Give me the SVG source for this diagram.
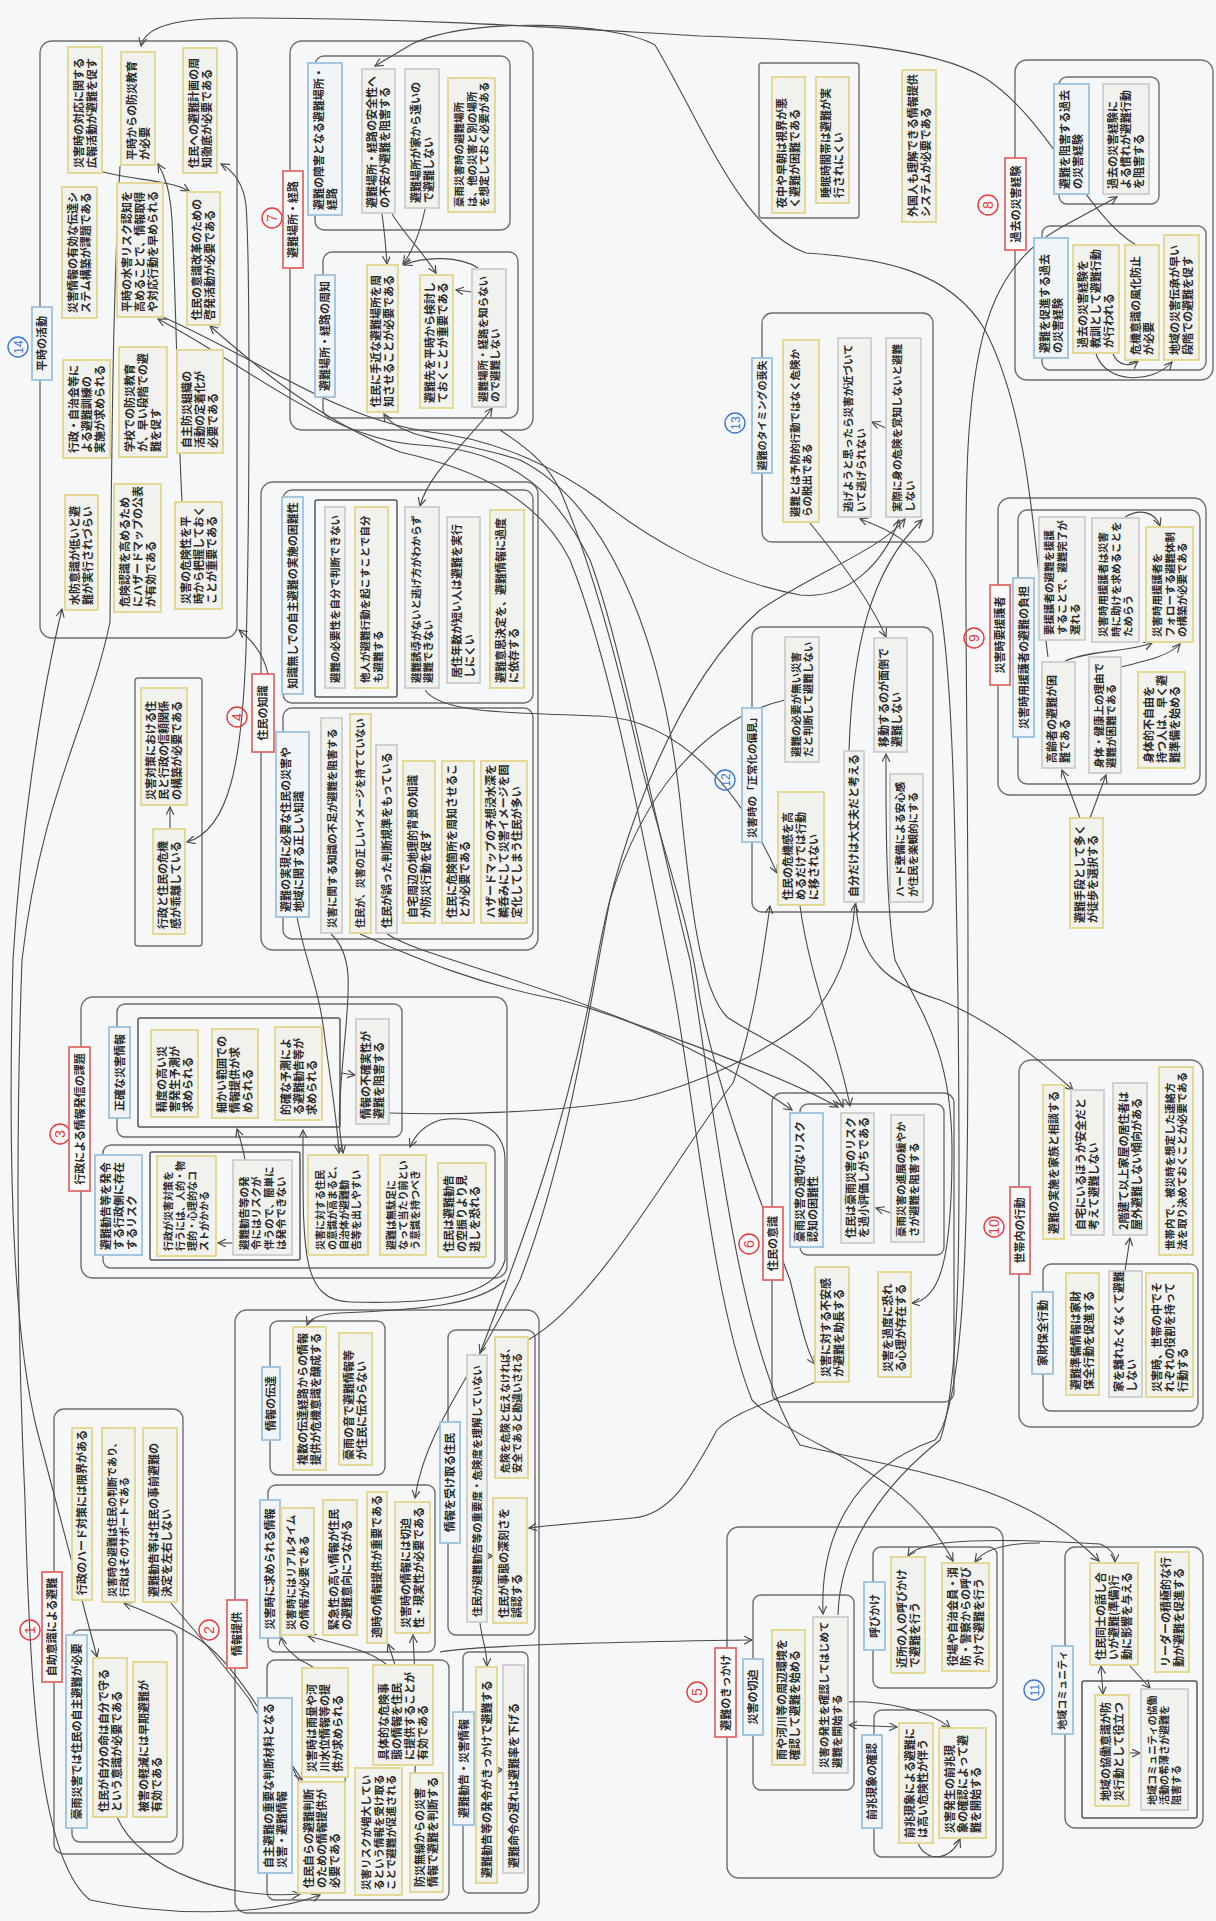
<svg xmlns="http://www.w3.org/2000/svg" width="1216" height="1921" viewBox="0 0 1216 1921">
<style>
.t{font-family:"Noto Sans CJK JP","Noto Sans CJK SC",sans-serif;font-size:11px;font-weight:bold;fill:#2a2a2a}
.m{text-anchor:middle}
.y{fill:#f1f1ee;stroke:#e3d68a;stroke-width:1.8}
.q{fill:#f1f1ee;stroke:#cdcdcd;stroke-width:1.8}
.b{fill:#f2f5f8;stroke:#9dc1dd;stroke-width:1.8}
.r{fill:#fafafa;stroke:#e06b6b;stroke-width:1.8}
.g{fill:none;stroke:#6e6e6e;stroke-width:1.4}
.k{fill:none;stroke:#555;stroke-width:1.5}
.cr{fill:none;stroke:#e33b3b;stroke-width:1.4}
.cb{fill:none;stroke:#3a78d4;stroke-width:1.4}
.nr{font-family:"Liberation Sans",sans-serif;font-size:14px;fill:#e33b3b;text-anchor:middle}
.nb{font-family:"Liberation Sans",sans-serif;font-size:12px;fill:#3a78d4;text-anchor:middle}
.cn path{fill:none;stroke:#4a4a4a;stroke-width:1.1}
</style>
<defs>
<marker id="a" markerUnits="userSpaceOnUse" markerWidth="10" markerHeight="10" refX="8" refY="4" orient="auto-start-reverse"><path d="M0,0 L8,4 L0,8" fill="none" stroke="#4a4a4a" stroke-width="1.2"/></marker>
</defs>
<rect width="1216" height="1921" fill="#f6f7f9"/>

<!-- group frames -->
<g id="frames">
<rect class="g" x="40" y="41" width="197" height="597" rx="12"/>
<rect class="g" x="135" y="678" width="67" height="268" rx="3"/>
<rect class="g" x="290" y="41" width="243" height="389" rx="12"/>
<rect class="g" x="315" y="56" width="195" height="174" rx="9"/>
<rect class="g" x="323" y="252" width="195" height="166" rx="9"/>
<rect class="g" x="759" y="63" width="100" height="155" rx="3"/>
<rect class="g" x="762" y="313" width="171" height="229" rx="10"/>
<rect class="g" x="1015" y="60" width="198" height="320" rx="12"/>
<rect class="g" x="1059" y="77" width="100" height="127" rx="8"/>
<rect class="g" x="1042" y="226" width="164" height="144" rx="8"/>
<rect class="g" x="998" y="498" width="208" height="297" rx="12"/>
<rect class="g" x="1018" y="510" width="182" height="274" rx="9"/>
<rect class="g" x="752" y="627" width="181" height="285" rx="10"/>
<rect class="g" x="261" y="482" width="277" height="468" rx="12"/>
<rect class="g" x="283" y="490" width="250" height="213" rx="9"/>
<rect class="k" x="315" y="500" width="82" height="197" rx="2"/>
<rect class="g" x="283" y="708" width="250" height="231" rx="9"/>
<rect class="g" x="81" y="997" width="426" height="281" rx="12"/>
<rect class="g" x="117" y="1004" width="285" height="133" rx="8"/>
<rect class="k" x="138" y="1018" width="202" height="109" rx="2"/>
<rect class="g" x="103" y="1145" width="392" height="123" rx="8"/>
<rect class="k" x="150" y="1152" width="150" height="108" rx="2"/>
<rect class="g" x="235" y="1310" width="304" height="603" rx="12"/>
<rect class="g" x="270" y="1321" width="115" height="154" rx="8"/>
<rect class="g" x="268" y="1485" width="167" height="167" rx="8"/>
<rect class="g" x="448" y="1330" width="87" height="305" rx="8"/>
<rect class="g" x="267" y="1660" width="182" height="240" rx="8"/>
<rect class="g" x="463" y="1652" width="65" height="241" rx="6"/>
<rect class="g" x="54" y="1409" width="129" height="445" rx="10"/>
<rect class="g" x="72" y="1630" width="105" height="212" rx="8"/>
<rect class="g" x="727" y="1527" width="276" height="351" rx="12"/>
<rect class="g" x="753" y="1595" width="101" height="195" rx="8"/>
<rect class="g" x="873" y="1547" width="124" height="141" rx="8"/>
<rect class="g" x="874" y="1710" width="122" height="147" rx="8"/>
<rect class="g" x="1065" y="1547" width="138" height="281" rx="10"/>
<rect class="k" x="1082" y="1681" width="115" height="137" rx="2"/>
<rect class="g" x="772" y="1093" width="182" height="309" rx="10"/>
<rect class="g" x="800" y="1104" width="144" height="151" rx="8"/>
<rect class="g" x="1019" y="1060" width="184" height="367" rx="12"/>
<rect class="g" x="1043" y="1264" width="155" height="147" rx="8"/>
</g>

<!-- connectors -->
<g id="connectors" class="cn">
<path marker-end="url(#a)" d="M1136,245 C1085,215 1050,120 985,78 C930,45 820,40 700,36 C560,28 420,18 240,18 C170,18 145,28 141,46"/>
<path marker-end="url(#a)" d="M1048,657 C1035,560 1032,420 985,330 C950,270 880,258 806,253 C740,230 700,120 655,45 C615,22 470,16 412,44 L375,66"/>
<path marker-start="url(#a)" marker-end="url(#a)" d="M823,1614 C820,1540 850,1470 935,1440 C968,1400 968,1200 968,960 C968,700 962,500 970,420 C978,320 1000,262 1060,228 L1117,197"/>
<path marker-end="url(#a)" d="M100,171 C130,180 170,180 189,191"/>
<path marker-end="url(#a)" d="M182,501 C178,430 176,300 172,220 C170,190 165,176 158,164"/>
<path marker-start="url(#a)" marker-end="url(#a)" d="M187,842 C230,830 242,760 246,650 C250,500 250,260 246,205 C243,182 232,170 221,164"/>
<path marker-end="url(#a)" d="M268,674 C264,655 252,640 239,630"/>
<path marker-end="url(#a)" d="M170,829 L170,807"/>
<path marker-end="url(#a)" d="M382,214 C385,235 386,250 387,264"/>
<path marker-end="url(#a)" d="M425,209 C420,235 410,255 403,264"/>
<path marker-end="url(#a)" d="M392,214 C405,235 425,255 436,273"/>
<path marker-end="url(#a)" d="M478,268 C460,256 425,256 404,265"/>
<path marker-end="url(#a)" d="M472,292 L456,290"/>
<path marker-start="url(#a)" marker-end="url(#a)" d="M420,506 C430,470 470,440 492,408"/>
<path marker-start="url(#a)" marker-end="url(#a)" d="M158,319 C250,367 330,440 420,445 C520,450 560,500 590,560 C620,640 650,800 690,960 C720,1150 740,1350 800,1445 C900,1470 1020,1480 1099,1561"/>
<path marker-start="url(#a)" marker-end="url(#a)" d="M210,326 C260,370 320,420 400,452 C480,470 540,500 570,560 C610,660 640,820 672,980 C695,1100 712,1300 752,1400 C800,1450 900,1460 953,1561"/>
<path marker-end="url(#a)" d="M389,1113 C450,1115 550,1113 633,1100 C700,1085 770,1050 810,1017 C835,990 852,950 855,904"/>
<path marker-end="url(#a)" d="M528,1340 C600,1300 680,1150 733,1083 C755,1020 762,960 770,906"/>
<path marker-start="url(#a)" marker-end="url(#a)" d="M480,1353 C520,1250 570,1117 597,960 C620,830 680,680 760,610 C820,570 880,550 905,519"/>
<path marker-end="url(#a)" d="M500,430 C530,450 548,465 560,490 C590,560 615,650 640,760 C665,860 690,920 700,1000 C720,1100 760,1200 790,1280 C800,1320 806,1350 815,1364"/>
<path marker-start="url(#a)" marker-end="url(#a)" d="M843,1107 C820,1060 760,1040 727,1017 C700,990 690,900 680,800 C660,620 600,500 520,460 C460,440 400,440 384,414"/>
<path marker-end="url(#a)" d="M387,934 C420,955 500,970 633,1023 C720,1055 790,1080 838,1107"/>
<path marker-end="url(#a)" d="M425,690 C440,712 500,713 600,716 C680,720 740,790 777,873"/>
<path marker-end="url(#a)" d="M163,317 C260,360 340,420 430,432 C500,440 560,470 600,500 C650,540 720,580 800,595 C850,600 885,560 899,520"/>
<path marker-end="url(#a)" d="M297,917 C305,960 320,990 325,1040 C332,1090 337,1120 339,1153"/>
<path marker-end="url(#a)" d="M331,934 C360,960 345,1010 340,1100 C338,1130 341,1140 343,1153"/>
<path marker-end="url(#a)" d="M360,934 C420,960 480,985 560,1000 C640,1020 720,1060 792,1110"/>
<path marker-start="url(#a)" marker-end="url(#a)" d="M303,1130 C303,1250 300,1300 350,1302 C420,1304 495,1300 505,1260 L505,1160 C505,1125 470,1115 440,1120 C425,1125 415,1135 410,1147"/>
<path marker-end="url(#a)" d="M245,1160 C243,1148 240,1138 237,1129"/>
<path marker-end="url(#a)" d="M232,1243 L218,1243"/>
<path marker-end="url(#a)" d="M341,1073 L355,1075"/>
<path marker-end="url(#a)" d="M505,1280 C480,1305 420,1310 340,1313 C320,1314 310,1318 307,1325"/>
<path marker-end="url(#a)" d="M785,700 C700,720 640,800 610,900 C590,1000 570,1150 520,1280 C470,1380 425,1430 415,1498"/>
<path marker-end="url(#a)" d="M838,1615 C840,1540 890,1480 940,1440 C962,1380 960,1200 958,1000 C955,800 952,650 935,580 C915,540 885,528 860,519"/>
<path marker-end="url(#a)" d="M849,751 C852,650 870,570 922,520"/>
<path marker-end="url(#a)" d="M810,523 C840,560 870,600 886,637"/>
<path marker-end="url(#a)" d="M1065,661 C1090,650 1130,652 1152,643"/>
<path marker-end="url(#a)" d="M1121,667 C1150,660 1170,655 1180,644"/>
<path marker-end="url(#a)" d="M1125,517 C1140,508 1155,512 1160,526"/>
<path marker-end="url(#a)" d="M1080,818 L1062,770"/>
<path marker-end="url(#a)" d="M1090,818 L1106,775"/>
<path marker-end="url(#a)" d="M1096,354 C1105,382 1150,386 1172,362"/>
<path marker-end="url(#a)" d="M1113,354 C1118,366 1130,367 1138,361"/>
<path marker-end="url(#a)" d="M1125,1271 L1130,1238"/>
<path marker-end="url(#a)" d="M856,903 C858,960 890,985 940,1000 C990,1020 1040,1060 1073,1090"/>
<path marker-end="url(#a)" d="M891,1213 L876,1208"/>
<path marker-start="url(#a)" marker-end="url(#a)" d="M912,1303 C940,1300 952,1260 952,1150 C952,1050 920,1010 895,960 C885,900 886,800 886,754"/>
<path marker-end="url(#a)" d="M800,906 C810,980 840,1050 850,1106"/>
<path marker-start="url(#a)" marker-end="url(#a)" d="M849,1725 L897,1727"/>
<path marker-end="url(#a)" d="M846,1702 C880,1700 930,1710 950,1728"/>
<path marker-end="url(#a)" d="M918,1843 C925,1862 950,1862 960,1839"/>
<path marker-start="url(#a)" marker-end="url(#a)" d="M908,1556 C920,1538 1000,1538 1100,1544 C1110,1548 1115,1555 1115,1562"/>
<path marker-end="url(#a)" d="M1040,1543 C1010,1543 985,1548 975,1562"/>
<path marker-start="url(#a)" marker-end="url(#a)" d="M1101,1666 L1103,1694"/>
<path marker-end="url(#a)" d="M1130,1666 L1150,1688"/>
<path marker-end="url(#a)" d="M1129,1753 L1140,1753"/>
<path marker-end="url(#a)" d="M480,1623 C482,1640 487,1650 487,1666"/>
<path marker-end="url(#a)" d="M487,1556 L493,1556"/>
<path marker-end="url(#a)" d="M497,1770 L503,1770"/>
<path marker-end="url(#a)" d="M815,1382 C780,1400 735,1410 717,1430 C690,1480 670,1515 633,1518 C590,1522 550,1525 529,1528"/>
<path marker-end="url(#a)" d="M440,1652 C480,1645 600,1642 752,1640"/>
<path marker-end="url(#a)" d="M387,1665 C370,1650 340,1645 308,1636"/>
<path marker-end="url(#a)" d="M345,1782 C350,1720 345,1680 300,1660 C290,1652 283,1646 281,1637"/>
<path marker-end="url(#a)" d="M395,1665 C392,1655 390,1649 388,1644"/>
<path marker-end="url(#a)" d="M415,1773 C418,1720 415,1680 413,1635"/>
<path marker-end="url(#a)" d="M117,1817 C140,1870 227,1900 300,1894"/>
<path marker-end="url(#a)" d="M300,1783 C270,1720 230,1660 200,1640 C170,1620 140,1610 124,1603"/>
<path marker-end="url(#a)" d="M170,1602 C190,1625 220,1660 250,1700 C270,1740 290,1760 302,1780"/>
<path marker-start="url(#a)" marker-end="url(#a)" d="M62,609 C40,700 20,840 13,960 C8,1150 12,1330 37,1430 C55,1500 80,1590 97,1657"/>
<path marker-end="url(#a)" d="M120,166 C113,300 112,420 110,622 C90,720 40,800 22,960 C15,1150 18,1350 25,1500 C30,1700 40,1860 90,1900 C160,1915 260,1918 320,1895"/>
<path marker-end="url(#a)" d="M886,428 L872,422"/>
</g>

<!-- circled numbers -->
<g id="num14" transform="translate(18,347) rotate(-90)"><circle class="cb" r="10"/><text class="nb" y="4.5">14</text></g>
<g id="num7" transform="translate(272,218) rotate(-90)"><circle class="cr" r="10"/><text class="nr" y="5">7</text></g>
<g id="num13" transform="translate(735,423) rotate(-90)"><circle class="cb" r="10"/><text class="nb" y="4.5">13</text></g>
<g id="num8" transform="translate(988,205) rotate(-90)"><circle class="cr" r="10"/><text class="nr" y="5">8</text></g>
<g id="num9" transform="translate(974,638) rotate(-90)"><circle class="cr" r="10"/><text class="nr" y="5">9</text></g>
<g id="num12" transform="translate(725,780) rotate(-90)"><circle class="cb" r="10"/><text class="nb" y="4.5">12</text></g>
<g id="num4" transform="translate(237,717) rotate(-90)"><circle class="cr" r="10"/><text class="nr" y="5">4</text></g>
<g id="num3" transform="translate(60,1134) rotate(-90)"><circle class="cr" r="10"/><text class="nr" y="5">3</text></g>
<g id="num2" transform="translate(209,1630) rotate(-90)"><circle class="cr" r="10"/><text class="nr" y="5">2</text></g>
<g id="num1" transform="translate(30,1630) rotate(-90)"><circle class="cr" r="10"/><text class="nr" y="5">1</text></g>
<g id="num5" transform="translate(697,1692) rotate(-90)"><circle class="cr" r="10"/><text class="nr" y="5">5</text></g>
<g id="num11" transform="translate(1034,1690) rotate(-90)"><circle class="cb" r="10"/><text class="nb" y="4.5">11</text></g>
<g id="num6" transform="translate(749,1244) rotate(-90)"><circle class="cr" r="10"/><text class="nr" y="5">6</text></g>
<g id="num10" transform="translate(994,1227) rotate(-90)"><circle class="cr" r="10"/><text class="nr" y="5">10</text></g>

<!-- 14 -->
<g id="b14" transform="translate(32,380) rotate(-90)"><rect class="b" width="73" height="20"/><text class="t m" x="36.5" y="14.2">平時の活動</text></g>
<g id="n14_1" transform="translate(68,173) rotate(-90)"><rect class="y" width="126" height="34"/><text class="t"><tspan x="5" y="14.7">災害時の対応に関する</tspan><tspan x="5" y="27.7">広報活動が避難を促す</tspan></text></g>
<g id="n14_2" transform="translate(121,165) rotate(-90)"><rect class="y" width="113" height="34"/><text class="t"><tspan x="5" y="14.7">平時からの防災教育</tspan><tspan x="5" y="27.7">が必要</tspan></text></g>
<g id="n14_3" transform="translate(183,173) rotate(-90)"><rect class="y" width="125" height="34"/><text class="t"><tspan x="5" y="14.7">住民への避難計画の周</tspan><tspan x="5" y="27.7">知徹底が必要である</tspan></text></g>
<g id="n14_4" transform="translate(62,318) rotate(-90)"><rect class="y" width="131" height="35"/><text class="t"><tspan x="5" y="15.2">災害情報の有効な伝達シ</tspan><tspan x="5" y="28.2">ステム構築が課題である</tspan></text></g>
<g id="n14_5" transform="translate(117,317) rotate(-90)"><rect class="y" width="134" height="46"/><text class="t"><tspan x="5" y="14.2">平時の水害リスク認知を</tspan><tspan x="5" y="27.2">高めることで、情報取得</tspan><tspan x="5" y="40.2">や対応行動を早められる</tspan></text></g>
<g id="n14_6" transform="translate(187,325) rotate(-90)"><rect class="y" width="133" height="33"/><text class="t"><tspan x="5" y="14.2">住民の意識改革のための</tspan><tspan x="5" y="27.2">啓発活動が必要である</tspan></text></g>
<g id="n14_7" transform="translate(63,458) rotate(-90)"><rect class="y" width="98" height="47"/><text class="t"><tspan x="5" y="14.7">行政・自治会等に</tspan><tspan x="5" y="27.7">よる避難訓練の</tspan><tspan x="5" y="40.7">実施が求められる</tspan></text></g>
<g id="n14_8" transform="translate(119,457) rotate(-90)"><rect class="y" width="110" height="48"/><text class="t"><tspan x="5" y="15.2">学校での防災教育</tspan><tspan x="5" y="28.2">が、早い段階での避</tspan><tspan x="5" y="41.2">難を促す</tspan></text></g>
<g id="n14_9" transform="translate(177,453) rotate(-90)"><rect class="y" width="103" height="46"/><text class="t"><tspan x="5" y="14.2">自主防災組織の</tspan><tspan x="5" y="27.2">活動の定着化が</tspan><tspan x="5" y="40.2">必要である</tspan></text></g>
<g id="n14_10" transform="translate(65,610) rotate(-90)"><rect class="y" width="115" height="33"/><text class="t"><tspan x="5" y="14.2">水防意識が低いと避</tspan><tspan x="5" y="27.2">難が実行されづらい</tspan></text></g>
<g id="n14_11" transform="translate(114,612) rotate(-90)"><rect class="y" width="128" height="47"/><text class="t"><tspan x="5" y="14.7">危険認識を高めるため</tspan><tspan x="5" y="27.7">にハザードマップの公表</tspan><tspan x="5" y="40.7">が有効である</tspan></text></g>
<g id="n14_12" transform="translate(175,609) rotate(-90)"><rect class="y" width="107" height="47"/><text class="t"><tspan x="5" y="14.7">災害の危険性を平</tspan><tspan x="5" y="27.7">時から把握しておく</tspan><tspan x="5" y="40.7">ことが重要である</tspan></text></g>

<!-- standalone 1 -->
<g id="s1a" transform="translate(141,805) rotate(-90)"><rect class="y" width="117" height="46"/><text class="t"><tspan x="5" y="14.2">災害対策における住</tspan><tspan x="5" y="27.2">民と行政の信頼関係</tspan><tspan x="5" y="40.2">の構築が必要である</tspan></text></g>
<g id="s1b" transform="translate(153,934) rotate(-90)"><rect class="y" width="105" height="32"/><text class="t"><tspan x="5" y="13.7">行政と住民の危機</tspan><tspan x="5" y="26.7">感が乖離している</tspan></text></g>

<!-- 7 -->
<g id="L7" transform="translate(283,268) rotate(-90)"><rect class="r" width="97" height="20"/><text class="t m" x="48.5" y="14.2">避難場所・経路</text></g>
<g id="b7a" transform="translate(308,215) rotate(-90)"><rect class="b" width="152" height="34"/><text class="t"><tspan x="5" y="14.7">避難の障害となる避難場所・</tspan><tspan x="5" y="27.7">経路</tspan></text></g>
<g id="n7_1" transform="translate(362,213) rotate(-90)"><rect class="q" width="144" height="33"/><text class="t"><tspan x="5" y="14.2">避難場所・経路の安全性へ</tspan><tspan x="5" y="27.2">の不安が避難を阻害する</tspan></text></g>
<g id="n7_2" transform="translate(405,208) rotate(-90)"><rect class="q" width="139" height="34"/><text class="t"><tspan x="5" y="14.7">避難場所が家から遠いの</tspan><tspan x="5" y="27.7">で避難しない</tspan></text></g>
<g id="n7_3" transform="translate(448,212) rotate(-90)"><rect class="y" width="134" height="47"/><text class="t" style="font-size:10.5px"><tspan x="5" y="14.9">豪雨災害時の避難場所</tspan><tspan x="5" y="27.5">は、他の災害と別の場所</tspan><tspan x="5" y="40.1">を想定しておく必要がある</tspan></text></g>
<g id="b7b" transform="translate(315,397) rotate(-90)"><rect class="b" width="122" height="20"/><text class="t m" x="61" y="14.2">避難場所・経路の周知</text></g>
<g id="n7_4" transform="translate(367,412) rotate(-90)"><rect class="y" width="147" height="31"/><text class="t"><tspan x="5" y="13.2">住民に手近な避難場所を周</tspan><tspan x="5" y="26.2">知させることが必要である</tspan></text></g>
<g id="n7_5" transform="translate(420,408) rotate(-90)"><rect class="y" width="133" height="33"/><text class="t"><tspan x="5" y="14.2">避難先を平時から検討し</tspan><tspan x="5" y="27.2">ておくことが重要である</tspan></text></g>
<g id="n7_6" transform="translate(472,407) rotate(-90)"><rect class="q" width="138" height="34"/><text class="t" style="font-size:10.5px"><tspan x="5" y="14.7">避難場所・経路を知らない</tspan><tspan x="5" y="27.3">ので避難しない</tspan></text></g>

<!-- standalone top middle -->
<g id="s2a" transform="translate(772,213) rotate(-90)"><rect class="y" width="136" height="33"/><text class="t"><tspan x="5" y="14.2">夜中や早朝は視界が悪</tspan><tspan x="5" y="27.2">く避難が困難である</tspan></text></g>
<g id="s2b" transform="translate(816,203) rotate(-90)"><rect class="y" width="126" height="33"/><text class="t"><tspan x="5" y="14.2">睡眠時間帯は避難が実</tspan><tspan x="5" y="27.2">行されにくい</tspan></text></g>
<g id="s3" transform="translate(902,222) rotate(-90)"><rect class="y" width="152" height="34"/><text class="t"><tspan x="5" y="14.7">外国人も理解できる情報提供</tspan><tspan x="5" y="27.7">システムが必要である</tspan></text></g>

<!-- 13 -->
<g id="b13" transform="translate(752,473) rotate(-90)"><rect class="b" width="115" height="20"/><text class="t m" x="57.5" y="13.8" style="font-size:10px">避難のタイミングの喪失</text></g>
<g id="n13_1" transform="translate(783,522) rotate(-90)"><rect class="y" width="182" height="36"/><text class="t" style="font-size:10.5px"><tspan x="5" y="15.7">避難とは予防的行動ではなく危険か</tspan><tspan x="5" y="28.3">らの脱出である</tspan></text></g>
<g id="n13_2" transform="translate(838,517) rotate(-90)"><rect class="q" width="179" height="33"/><text class="t" style="font-size:10.5px"><tspan x="5" y="14.2">逃げようと思ったら災害が近づいて</tspan><tspan x="5" y="26.8">いて逃げられない</tspan></text></g>
<g id="n13_3" transform="translate(886,517) rotate(-90)"><rect class="q" width="179" height="35"/><text class="t" style="font-size:10.5px"><tspan x="5" y="15.2">実際に身の危険を覚知しないと避難</tspan><tspan x="5" y="27.8">しない</tspan></text></g>

<!-- 8 -->
<g id="L8" transform="translate(1005,250) rotate(-90)"><rect class="r" width="92" height="21"/><text class="t m" x="46" y="14.7">過去の災害経験</text></g>
<g id="b8a" transform="translate(1054,194) rotate(-90)"><rect class="b" width="110" height="35"/><text class="t"><tspan x="5" y="15.2">避難を阻害する過去</tspan><tspan x="5" y="28.2">の災害経験</tspan></text></g>
<g id="n8_1" transform="translate(1103,194) rotate(-90)"><rect class="q" width="110" height="46"/><text class="t"><tspan x="5" y="14.2">過去の災害経験に</tspan><tspan x="5" y="27.2">よる慣れが避難行動</tspan><tspan x="5" y="40.2">を阻害する</tspan></text></g>
<g id="b8b" transform="translate(1034,358) rotate(-90)"><rect class="b" width="120" height="34"/><text class="t"><tspan x="5" y="14.7">避難を促進する過去</tspan><tspan x="5" y="27.7">の災害経験</tspan></text></g>
<g id="n8_2" transform="translate(1073,353) rotate(-90)"><rect class="y" width="108" height="46"/><text class="t"><tspan x="5" y="14.2">過去の災害経験を</tspan><tspan x="5" y="27.2">教訓として避難行動</tspan><tspan x="5" y="40.2">が行われる</tspan></text></g>
<g id="n8_3" transform="translate(1125,360) rotate(-90)"><rect class="y" width="115" height="34"/><text class="t"><tspan x="5" y="14.7">危機意識の風化防止</tspan><tspan x="5" y="27.7">が必要</tspan></text></g>
<g id="n8_4" transform="translate(1164,360) rotate(-90)"><rect class="y" width="125" height="35"/><text class="t"><tspan x="5" y="15.2">地域の災害伝承が早い</tspan><tspan x="5" y="28.2">段階での避難を促す</tspan></text></g>

<!-- 9 -->
<g id="L9" transform="translate(990,685) rotate(-90)"><rect class="r" width="100" height="20"/><text class="t m" x="50" y="14.2">災害時要援護者</text></g>
<g id="b9" transform="translate(1013,737) rotate(-90)"><rect class="b" width="159" height="21"/><text class="t m" x="79.5" y="14.7">災害時用援護者の避難の負担</text></g>
<g id="n9_1" transform="translate(1039,640) rotate(-90)"><rect class="q" width="123" height="46"/><text class="t" style="font-size:10.5px"><tspan x="5" y="14.4">要援護者の避難を援護</tspan><tspan x="5" y="27">することで、避難完了が</tspan><tspan x="5" y="39.6">遅れる</tspan></text></g>
<g id="n9_2" transform="translate(1092,642) rotate(-90)"><rect class="q" width="124" height="47"/><text class="t" style="font-size:10.5px"><tspan x="5" y="14.9">災害時用援護者は災害</tspan><tspan x="5" y="27.5">時に助けを求めることを</tspan><tspan x="5" y="40.1">ためらう</tspan></text></g>
<g id="n9_3" transform="translate(1146,642) rotate(-90)"><rect class="y" width="115" height="47"/><text class="t" style="font-size:10.5px"><tspan x="5" y="14.9">災害時用援護者を</tspan><tspan x="5" y="27.5">フォローする避難体制</tspan><tspan x="5" y="40.1">の構築が必要である</tspan></text></g>
<g id="n9_4" transform="translate(1042,768) rotate(-90)"><rect class="q" width="106" height="33"/><text class="t"><tspan x="5" y="14.2">高齢者の避難が困</tspan><tspan x="5" y="27.2">難である</tspan></text></g>
<g id="n9_5" transform="translate(1089,773) rotate(-90)"><rect class="q" width="116" height="32"/><text class="t" style="font-size:10.5px"><tspan x="5" y="13.7">身体・健康上の理由で</tspan><tspan x="5" y="26.3">避難が困難である</tspan></text></g>
<g id="n9_6" transform="translate(1138,768) rotate(-90)"><rect class="y" width="96" height="47"/><text class="t"><tspan x="5" y="14.7">身体的不自由を</tspan><tspan x="5" y="27.7">持つ人は、早く避</tspan><tspan x="5" y="40.7">難準備を始める</tspan></text></g>
<g id="s4" transform="translate(1070,928) rotate(-90)"><rect class="y" width="110" height="33"/><text class="t"><tspan x="5" y="14.2">避難手段として多く</tspan><tspan x="5" y="27.2">が徒歩を選択する</tspan></text></g>

<!-- 12 -->
<g id="b12" transform="translate(742,842) rotate(-90)"><rect class="b" width="134" height="20"/><text class="t m" x="67" y="14" style="font-size:10.5px">災害時の「正常化の偏見」</text></g>
<g id="n12_1" transform="translate(785,762) rotate(-90)"><rect class="q" width="125" height="34"/><text class="t" style="font-size:10.5px"><tspan x="5" y="14.7">避難の必要が無い災害</tspan><tspan x="5" y="27.3">だと判断して避難しない</tspan></text></g>
<g id="n12_2" transform="translate(778,905) rotate(-90)"><rect class="y" width="113" height="46"/><text class="t"><tspan x="5" y="14.2">住民の危機感を高</tspan><tspan x="5" y="27.2">めるだけでは行動</tspan><tspan x="5" y="40.2">に移されない</tspan></text></g>
<g id="n12_3" transform="translate(874,752) rotate(-90)"><rect class="q" width="114" height="33"/><text class="t"><tspan x="5" y="14.2">移動するのが面倒で</tspan><tspan x="5" y="27.2">避難しない</tspan></text></g>
<g id="n12_4" transform="translate(844,902) rotate(-90)"><rect class="q" width="151" height="20"/><text class="t" x="5" y="14.2">自分だけは大丈夫だと考える</text></g>
<g id="n12_5" transform="translate(890,902) rotate(-90)"><rect class="q" width="128" height="33"/><text class="t" style="font-size:10.5px"><tspan x="5" y="14.2">ハード整備による安心感</tspan><tspan x="5" y="26.8">が住民を楽観的にする</tspan></text></g>

<!-- 4 -->
<g id="L4" transform="translate(252,752) rotate(-90)"><rect class="r" width="78" height="22"/><text class="t m" x="39" y="15.2">住民の知識</text></g>
<g id="b4a" transform="translate(282,694) rotate(-90)"><rect class="b" width="197" height="21"/><text class="t m" x="98.5" y="14.7">知識無しでの自主避難の実施の困難性</text></g>
<g id="n4_1" transform="translate(325,688) rotate(-90)"><rect class="q" width="181" height="20"/><text class="t" x="5" y="14" style="font-size:10.5px">避難の必要性を自分で判断できない</text></g>
<g id="n4_2" transform="translate(355,688) rotate(-90)"><rect class="y" width="181" height="33"/><text class="t" style="font-size:10.5px"><tspan x="5" y="14.2">他人が避難行動を起こすことで自分</tspan><tspan x="5" y="26.8">も避難する</tspan></text></g>
<g id="n4_3" transform="translate(405,688) rotate(-90)"><rect class="q" width="181" height="34"/><text class="t" style="font-size:10.5px"><tspan x="5" y="14.7">避難誘導がないと逃げ方がわからず</tspan><tspan x="5" y="27.3">避難できない</tspan></text></g>
<g id="n4_4" transform="translate(447,683) rotate(-90)"><rect class="q" width="166" height="33"/><text class="t"><tspan x="5" y="14.2">居住年数が短い人は避難を実行</tspan><tspan x="5" y="27.2">しにくい</tspan></text></g>
<g id="n4_5" transform="translate(490,688) rotate(-90)"><rect class="y" width="178" height="34"/><text class="t"><tspan x="5" y="14.7">避難意思決定を、避難情報に過度</tspan><tspan x="5" y="27.7">に依存する</tspan></text></g>
<g id="b4b" transform="translate(276,917) rotate(-90)"><rect class="b" width="185" height="33"/><text class="t"><tspan x="5" y="14.2">避難の実現に必要な住民の災害や</tspan><tspan x="5" y="27.2">地域に関する正しい知識</tspan></text></g>
<g id="n4_6" transform="translate(321,933) rotate(-90)"><rect class="q" width="215" height="21"/><text class="t" x="5" y="14.5" style="font-size:10.5px">災害に関する知識の不足が避難を阻害する</text></g>
<g id="n4_7" transform="translate(350,933) rotate(-90)"><rect class="y" width="219" height="21"/><text class="t" x="5" y="14.3" style="font-size:10px">住民が、災害の正しいイメージを持てていない</text></g>
<g id="n4_8" transform="translate(376,933) rotate(-90)"><rect class="q" width="188" height="21"/><text class="t" x="5" y="14.7">住民が誤った判断規準をもっている</text></g>
<g id="n4_9" transform="translate(403,923) rotate(-90)"><rect class="y" width="162" height="32"/><text class="t"><tspan x="5" y="13.7">自宅周辺の地理的背景の知識</tspan><tspan x="5" y="26.7">が防災行動を促す</tspan></text></g>
<g id="n4_10" transform="translate(442,923) rotate(-90)"><rect class="y" width="162" height="32"/><text class="t"><tspan x="5" y="13.7">住民に危険箇所を周知させるこ</tspan><tspan x="5" y="26.7">とが必要である</tspan></text></g>
<g id="n4_11" transform="translate(481,923) rotate(-90)"><rect class="y" width="162" height="46"/><text class="t"><tspan x="5" y="14.2">ハザードマップの予想浸水深を</tspan><tspan x="5" y="27.2">鵜呑みにして災害イメージを固</tspan><tspan x="5" y="40.2">定化してしまう住民が多い</tspan></text></g>

<!-- 3 -->
<g id="L3" transform="translate(69,1191) rotate(-90)"><rect class="r" width="144" height="21"/><text class="t m" x="72" y="14.7">行政による情報発信の課題</text></g>
<g id="b3a" transform="translate(109,1118) rotate(-90)"><rect class="b" width="91" height="21"/><text class="t m" x="45.5" y="14.7">正確な災害情報</text></g>
<g id="n3_1" transform="translate(151,1117) rotate(-90)"><rect class="y" width="87" height="47"/><text class="t"><tspan x="5" y="14.7">精度の高い災</tspan><tspan x="5" y="27.7">害発生予測が</tspan><tspan x="5" y="40.7">求められる</tspan></text></g>
<g id="n3_2" transform="translate(212,1118) rotate(-90)"><rect class="y" width="89" height="46"/><text class="t"><tspan x="5" y="14.2">細かい範囲での</tspan><tspan x="5" y="27.2">情報提供が求</tspan><tspan x="5" y="40.2">められる</tspan></text></g>
<g id="n3_3" transform="translate(275,1120) rotate(-90)"><rect class="y" width="93" height="47"/><text class="t"><tspan x="5" y="14.7">的確な予測によ</tspan><tspan x="5" y="27.7">る避難勧告等が</tspan><tspan x="5" y="40.7">求められる</tspan></text></g>
<g id="n3_4" transform="translate(356,1124) rotate(-90)"><rect class="q" width="105" height="33"/><text class="t"><tspan x="5" y="14.2">情報の不確実性が</tspan><tspan x="5" y="27.2">避難を阻害する</tspan></text></g>
<g id="b3b" transform="translate(95,1255) rotate(-90)"><rect class="b" width="100" height="47"/><text class="t"><tspan x="5" y="14.7">避難勧告等を発令</tspan><tspan x="5" y="27.7">する行政側に存在</tspan><tspan x="5" y="40.7">するリスク</tspan></text></g>
<g id="n3_5" transform="translate(157,1256) rotate(-90)"><rect class="y" width="100" height="59"/><text class="t" style="font-size:10px"><tspan x="5" y="15.3">行政が災害対策を</tspan><tspan x="5" y="27.3">行うには、人的・物</tspan><tspan x="5" y="39.3">理的・心理的なコ</tspan><tspan x="5" y="51.3">ストがかかる</tspan></text></g>
<g id="n3_6" transform="translate(233,1255) rotate(-90)"><rect class="q" width="95" height="59"/><text class="t" style="font-size:10.5px"><tspan x="5" y="14.6">避難勧告等の発</tspan><tspan x="5" y="27.2">令にはリスクが</tspan><tspan x="5" y="39.8">伴うので、簡単に</tspan><tspan x="5" y="52.4">は発令できない</tspan></text></g>
<g id="n3_7" transform="translate(308,1255) rotate(-90)"><rect class="y" width="100" height="60"/><text class="t" style="font-size:10px"><tspan x="5" y="15.8">災害に対する住民</tspan><tspan x="5" y="27.8">の意識が高まると、</tspan><tspan x="5" y="39.8">自治体が避難勧</tspan><tspan x="5" y="51.8">告等を出しやすい</tspan></text></g>
<g id="n3_8" transform="translate(380,1255) rotate(-90)"><rect class="y" width="100" height="46"/><text class="t" style="font-size:10px"><tspan x="5" y="14.8">避難は無駄足に</tspan><tspan x="5" y="26.8">なって当たり前とい</tspan><tspan x="5" y="38.8">う意識を持つべき</tspan></text></g>
<g id="n3_9" transform="translate(438,1257) rotate(-90)"><rect class="y" width="94" height="48"/><text class="t"><tspan x="5" y="15.2">住民は避難勧告</tspan><tspan x="5" y="28.2">の空振りより見</tspan><tspan x="5" y="41.2">逃しを恐れる</tspan></text></g>

<!-- 2 -->
<g id="L2" transform="translate(227,1668) rotate(-90)"><rect class="r" width="68" height="20"/><text class="t m" x="34" y="14.2">情報提供</text></g>
<g id="b2a" transform="translate(262,1440) rotate(-90)"><rect class="b" width="73" height="18"/><text class="t m" x="36.5" y="13.2">情報の伝達</text></g>
<g id="n2_1" transform="translate(293,1470) rotate(-90)"><rect class="y" width="143" height="33"/><text class="t"><tspan x="5" y="14.2">複数の伝達経路からの情報</tspan><tspan x="5" y="27.2">提供が危機意識を醸成する</tspan></text></g>
<g id="n2_2" transform="translate(339,1465) rotate(-90)"><rect class="y" width="132" height="33"/><text class="t"><tspan x="5" y="14.2">豪雨の音で避難情報等</tspan><tspan x="5" y="27.2">が住民に伝わらない</tspan></text></g>
<g id="b2b" transform="translate(260,1638) rotate(-90)"><rect class="b" width="138" height="20"/><text class="t m" x="69" y="14.2">災害時に求められる情報</text></g>
<g id="n2_3" transform="translate(281,1635) rotate(-90)"><rect class="y" width="127" height="33"/><text class="t" style="font-size:10.5px"><tspan x="5" y="14.2">災害時にはリアルタイム</tspan><tspan x="5" y="26.8">の情報が必要である</tspan></text></g>
<g id="n2_4" transform="translate(323,1635) rotate(-90)"><rect class="y" width="135" height="34"/><text class="t"><tspan x="5" y="14.7">緊急性の高い情報が住民</tspan><tspan x="5" y="27.7">の避難意向につながる</tspan></text></g>
<g id="n2_5" transform="translate(367,1643) rotate(-90)"><rect class="y" width="151" height="20"/><text class="t" x="5" y="14.2">適時の情報提供が重要である</text></g>
<g id="n2_6" transform="translate(395,1633) rotate(-90)"><rect class="y" width="131" height="35"/><text class="t"><tspan x="5" y="15.2">災害時の情報には切迫</tspan><tspan x="5" y="28.2">性・現実性が必要である</tspan></text></g>
<g id="b2c" transform="translate(440,1543) rotate(-90)"><rect class="b" width="121" height="20"/><text class="t m" x="60.5" y="14.2">情報を受け取る住民</text></g>
<g id="n2_7" transform="translate(467,1622) rotate(-90)"><rect class="q" width="267" height="20"/><text class="t" x="5" y="14" style="font-size:10.5px">住民が避難勧告等の重要度・危険度を理解していない</text></g>
<g id="n2_8" transform="translate(495,1478) rotate(-90)"><rect class="y" width="141" height="33"/><text class="t" style="font-size:10px"><tspan x="5" y="14.3">危険を危険と伝えなければ、</tspan><tspan x="5" y="26.3">安全であると勘違いされる</tspan></text></g>
<g id="n2_9" transform="translate(493,1623) rotate(-90)"><rect class="y" width="125" height="34"/><text class="t"><tspan x="5" y="14.7">住民が事態の深刻さを</tspan><tspan x="5" y="27.7">誤認する</tspan></text></g>
<g id="b2d" transform="translate(258,1873) rotate(-90)"><rect class="b" width="175" height="34"/><text class="t"><tspan x="5" y="14.7">自主避難の重要な判断材料となる</tspan><tspan x="5" y="27.7">災害・避難情報</tspan></text></g>
<g id="n2_10" transform="translate(302,1777) rotate(-90)"><rect class="y" width="109" height="46"/><text class="t"><tspan x="5" y="14.2">災害時は雨量や河</tspan><tspan x="5" y="27.2">川水位情報等の提</tspan><tspan x="5" y="40.2">供が求められる</tspan></text></g>
<g id="n2_11" transform="translate(298,1893) rotate(-90)"><rect class="y" width="111" height="47"/><text class="t"><tspan x="5" y="14.7">住民自らの避難判断</tspan><tspan x="5" y="27.7">のための情報提供が</tspan><tspan x="5" y="40.7">必要である</tspan></text></g>
<g id="n2_12" transform="translate(373,1765) rotate(-90)"><rect class="y" width="100" height="60"/><text class="t"><tspan x="5" y="14.7">具体的な危険事</tspan><tspan x="5" y="27.7">態の情報を住民</tspan><tspan x="5" y="40.7">に提供することが</tspan><tspan x="5" y="53.7">有効である</tspan></text></g>
<g id="n2_13" transform="translate(355,1895) rotate(-90)"><rect class="y" width="127" height="47"/><text class="t" style="font-size:10.5px"><tspan x="5" y="14.9">災害リスクが増大してい</tspan><tspan x="5" y="27.5">るという情報を受け取る</tspan><tspan x="5" y="40.1">ことで避難が促進される</tspan></text></g>
<g id="n2_14" transform="translate(410,1892) rotate(-90)"><rect class="y" width="119" height="33"/><text class="t"><tspan x="5" y="14.2">防災無線からの災害</tspan><tspan x="5" y="27.2">情報で避難を判断する</tspan></text></g>
<g id="b2e" transform="translate(453,1825) rotate(-90)"><rect class="b" width="113" height="21"/><text class="t m" x="56.5" y="14.7">避難勧告・災害情報</text></g>
<g id="n2_15" transform="translate(476,1883) rotate(-90)"><rect class="y" width="216" height="21"/><text class="t" x="5" y="14.7">避難勧告等の発令がきっかけで避難する</text></g>
<g id="n2_16" transform="translate(503,1873) rotate(-90)"><rect class="q" width="208" height="21"/><text class="t" x="5" y="14.7">避難命令の遅れは避難率を下げる</text></g>

<!-- 1 -->
<g id="L1" transform="translate(42,1682) rotate(-90)"><rect class="r" width="110" height="20"/><text class="t m" x="55" y="14.2">自助意識による避難</text></g>
<g id="n1_1" transform="translate(72,1600) rotate(-90)"><rect class="y" width="172" height="20"/><text class="t" x="5" y="14.2">行政のハード対策には限界がある</text></g>
<g id="n1_2" transform="translate(102,1602) rotate(-90)"><rect class="y" width="174" height="33"/><text class="t" style="font-size:10px"><tspan x="5" y="14.3">災害時の避難は住民の判断であり、</tspan><tspan x="5" y="26.3">行政はそのサポートである</tspan></text></g>
<g id="n1_3" transform="translate(143,1602) rotate(-90)"><rect class="y" width="174" height="34"/><text class="t"><tspan x="5" y="14.7">避難勧告等は住民の事前避難の</tspan><tspan x="5" y="27.7">決定を左右しない</tspan></text></g>
<g id="b1" transform="translate(66,1828) rotate(-90)"><rect class="b" width="193" height="21"/><text class="t m" x="96.5" y="14.7">豪雨災害では住民の自主避難が必要</text></g>
<g id="n1_4" transform="translate(93,1817) rotate(-90)"><rect class="y" width="159" height="34"/><text class="t"><tspan x="5" y="14.7">住民が自分の命は自分で守る</tspan><tspan x="5" y="27.7">という意識が必要である</tspan></text></g>
<g id="n1_5" transform="translate(133,1817) rotate(-90)"><rect class="y" width="155" height="34"/><text class="t"><tspan x="5" y="14.7">被害の軽減には早期避難が</tspan><tspan x="5" y="27.7">有効である</tspan></text></g>

<!-- 5 -->
<g id="L5" transform="translate(715,1737) rotate(-90)"><rect class="r" width="89" height="21"/><text class="t m" x="44.5" y="14.7">避難のきっかけ</text></g>
<g id="b5a" transform="translate(743,1735) rotate(-90)"><rect class="b" width="76" height="20"/><text class="t m" x="38" y="14.2">災害の切迫</text></g>
<g id="n5_1" transform="translate(772,1765) rotate(-90)"><rect class="y" width="135" height="33"/><text class="t"><tspan x="5" y="14.2">雨や河川等の周辺環境を</tspan><tspan x="5" y="27.2">確認して避難を始める</tspan></text></g>
<g id="n5_2" transform="translate(813,1773) rotate(-90)"><rect class="q" width="156" height="35"/><text class="t" style="font-size:10.5px"><tspan x="5" y="15.2">災害の発生を確認してはじめて</tspan><tspan x="5" y="27.8">避難を開始する</tspan></text></g>
<g id="b5b" transform="translate(864,1650) rotate(-90)"><rect class="b" width="68" height="21"/><text class="t m" x="34" y="14.7">呼びかけ</text></g>
<g id="n5_3" transform="translate(891,1673) rotate(-90)"><rect class="y" width="116" height="34"/><text class="t"><tspan x="5" y="14.7">近所の人の呼びかけ</tspan><tspan x="5" y="27.7">で避難を行う</tspan></text></g>
<g id="n5_4" transform="translate(942,1671) rotate(-90)"><rect class="y" width="108" height="47"/><text class="t"><tspan x="5" y="14.7">役場や自治会員・消</tspan><tspan x="5" y="27.7">防・警察からの呼び</tspan><tspan x="5" y="40.7">かけで避難を行う</tspan></text></g>
<g id="b5c" transform="translate(862,1828) rotate(-90)"><rect class="b" width="93" height="20"/><text class="t m" x="46.5" y="14.2">前兆現象の確認</text></g>
<g id="n5_5" transform="translate(899,1843) rotate(-90)"><rect class="y" width="120" height="34"/><text class="t"><tspan x="5" y="14.7">前兆現象による避難に</tspan><tspan x="5" y="27.7">は高い危険性が伴う</tspan></text></g>
<g id="n5_6" transform="translate(939,1838) rotate(-90)"><rect class="y" width="110" height="47"/><text class="t"><tspan x="5" y="14.7">災害発生の前兆現</tspan><tspan x="5" y="27.7">象の確認によって避</tspan><tspan x="5" y="40.7">難を開始する</tspan></text></g>

<!-- 11 -->
<g id="b11" transform="translate(1052,1734) rotate(-90)"><rect class="b" width="88" height="21"/><text class="t m" x="44" y="14.3" style="font-size:10px">地域コミュニティ</text></g>
<g id="n11_1" transform="translate(1090,1665) rotate(-90)"><rect class="y" width="102" height="48"/><text class="t"><tspan x="5" y="15.2">住民同士の話し合</tspan><tspan x="5" y="28.2">いが避難(準備)行</tspan><tspan x="5" y="41.2">動に影響を与える</tspan></text></g>
<g id="n11_2" transform="translate(1155,1672) rotate(-90)"><rect class="y" width="120" height="34"/><text class="t"><tspan x="5" y="14.7">リーダーの積極的な行</tspan><tspan x="5" y="27.7">動が避難を促進する</tspan></text></g>
<g id="n11_3" transform="translate(1095,1806) rotate(-90)"><rect class="y" width="111" height="34"/><text class="t"><tspan x="5" y="14.7">地域の協働意識が防</tspan><tspan x="5" y="27.7">災行動として役立つ</tspan></text></g>
<g id="n11_4" transform="translate(1141,1810) rotate(-90)"><rect class="q" width="121" height="47"/><text class="t" style="font-size:10px"><tspan x="5" y="15.3">地域コミュニティの協働</tspan><tspan x="5" y="27.3">活動の希薄さが避難を</tspan><tspan x="5" y="39.3">阻害する</tspan></text></g>

<!-- 6 -->
<g id="L6" transform="translate(763,1280) rotate(-90)"><rect class="r" width="73" height="20"/><text class="t m" x="36.5" y="14.2">住民の意識</text></g>
<g id="b6" transform="translate(790,1247) rotate(-90)"><rect class="b" width="134" height="33"/><text class="t"><tspan x="5" y="14.2">豪雨災害の適切なリスク</tspan><tspan x="5" y="27.2">認知の困難性</tspan></text></g>
<g id="n6_1" transform="translate(841,1243) rotate(-90)"><rect class="q" width="130" height="33"/><text class="t"><tspan x="5" y="14.2">住民は豪雨災害のリスク</tspan><tspan x="5" y="27.2">を過小評価しがちである</tspan></text></g>
<g id="n6_2" transform="translate(891,1242) rotate(-90)"><rect class="q" width="127" height="33"/><text class="t" style="font-size:10.5px"><tspan x="5" y="14.2">豪雨災害の進展の緩やか</tspan><tspan x="5" y="26.8">さが避難を阻害する</tspan></text></g>
<g id="n6_3" transform="translate(815,1382) rotate(-90)"><rect class="y" width="115" height="34"/><text class="t"><tspan x="5" y="14.7">災害に対する不安感</tspan><tspan x="5" y="27.7">が避難を助長する</tspan></text></g>
<g id="n6_4" transform="translate(878,1377) rotate(-90)"><rect class="y" width="105" height="33"/><text class="t"><tspan x="5" y="14.2">災害を過度に恐れ</tspan><tspan x="5" y="27.2">る心理が存在する</tspan></text></g>

<!-- 10 -->
<g id="L10" transform="translate(1010,1274) rotate(-90)"><rect class="r" width="87" height="20"/><text class="t m" x="43.5" y="14.2">世帯内の行動</text></g>
<g id="n10_1" transform="translate(1043,1239) rotate(-90)"><rect class="y" width="154" height="21"/><text class="t" x="5" y="14.7">避難の実施を家族と相談する</text></g>
<g id="n10_2" transform="translate(1071,1235) rotate(-90)"><rect class="q" width="145" height="33"/><text class="t"><tspan x="5" y="14.2">自宅にいるほうが安全だと</tspan><tspan x="5" y="27.2">考えて避難しない</tspan></text></g>
<g id="n10_3" transform="translate(1113,1235) rotate(-90)"><rect class="q" width="152" height="34"/><text class="t"><tspan x="5" y="14.7">2階建て以上家屋の居住者は</tspan><tspan x="5" y="27.7">屋外避難しない傾向がある</tspan></text></g>
<g id="n10_4" transform="translate(1159,1255) rotate(-90)"><rect class="y" width="188" height="34"/><text class="t" style="font-size:10.5px"><tspan x="5" y="14.7">世帯内で、被災時を想定した連絡方</tspan><tspan x="5" y="27.3">法を取り決めておくことが必要である</tspan></text></g>
<g id="b10" transform="translate(1032,1374) rotate(-90)"><rect class="b" width="82" height="21"/><text class="t m" x="41" y="14.7">家財保全行動</text></g>
<g id="n10_5" transform="translate(1066,1395) rotate(-90)"><rect class="y" width="122" height="33"/><text class="t"><tspan x="5" y="14.2">避難準備情報は家財</tspan><tspan x="5" y="27.2">保全行動を促進する</tspan></text></g>
<g id="n10_6" transform="translate(1109,1397) rotate(-90)"><rect class="q" width="126" height="33"/><text class="t"><tspan x="5" y="14.2">家を離れたくなくて避難</tspan><tspan x="5" y="27.2">しない</tspan></text></g>
<g id="n10_7" transform="translate(1146,1397) rotate(-90)"><rect class="y" width="124" height="47"/><text class="t"><tspan x="5" y="14.7">災害時、世帯の中でそ</tspan><tspan x="5" y="27.7">れぞれの役割を持って</tspan><tspan x="5" y="40.7">行動する</tspan></text></g>
</svg>
